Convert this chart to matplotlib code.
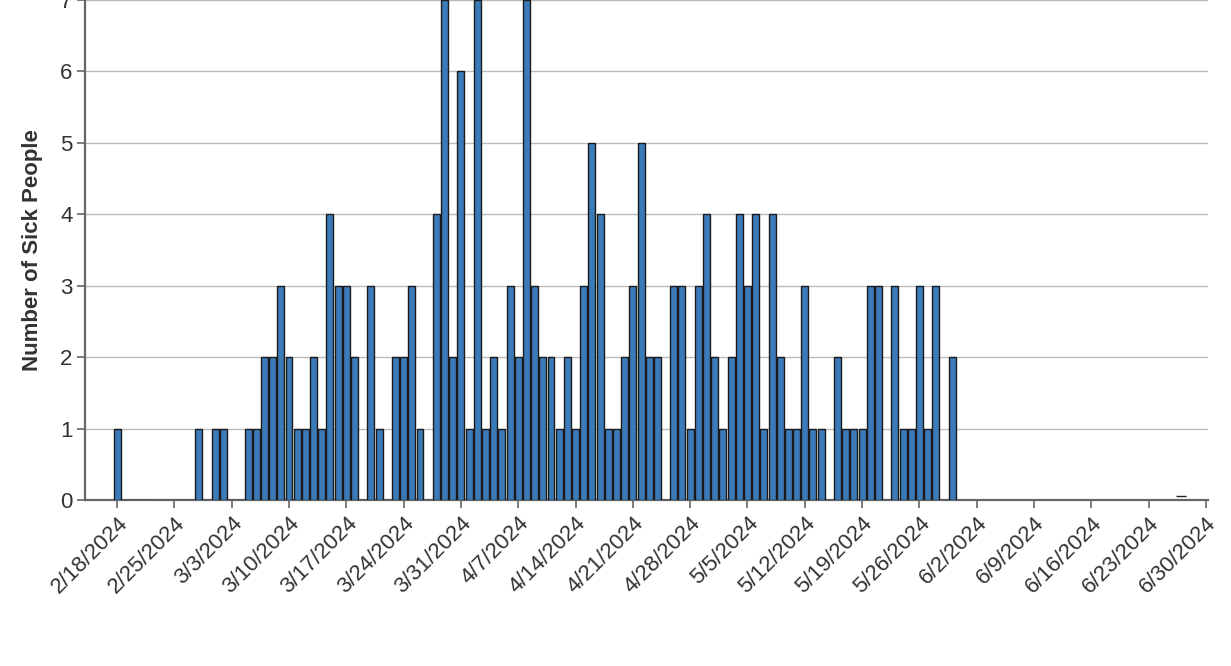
import matplotlib
matplotlib.use("Agg")
import matplotlib.pyplot as plt
import matplotlib.dates as mdates
import pandas as pd

# daily counts, one value per day starting at 2/18/2024
start_day = "2024-02-18"
sick_counts = [
    1, 0, 0, 0, 0, 0, 0, 0, 0, 0, 1, 0,                      # 2/18 - 2/29
    1, 1, 0, 0, 1, 1, 2, 2, 3, 2, 1, 1, 2, 1, 4, 3, 3, 2,    # 3/1 - 3/18
    0, 3, 1, 0, 2, 2, 3, 1, 0, 4, 7, 2, 6,                   # 3/19 - 3/31
    1, 7, 1, 2, 1, 3, 2, 7, 3, 2, 2, 1, 2, 1, 3, 5, 4, 1,    # 4/1 - 4/18
    1, 2, 3, 5, 2, 2, 0, 3, 3, 1, 3, 4,                      # 4/19 - 4/30
    2, 1, 2, 4, 3, 4, 1, 4, 2, 1, 1, 3, 1, 1, 0, 2, 1, 1,    # 5/1 - 5/18
    1, 3, 3, 0, 3, 1, 1, 3, 1, 3, 0, 2,                      # 5/19 - 5/30
]
# a lone near-zero record late in June
stray_days = ["2024-06-27"]
stray_counts = [0.06]

tick_days = pd.date_range("2024-02-18", "2024-06-30", freq="7D")
tick_labels = [f"{d.month}/{d.day}/{d.year}" for d in tick_days]

days = pd.date_range(start_day, periods=len(sick_counts), freq="D")

plt.rcParams['font.family'] = ['Liberation Sans', 'DejaVu Sans']

fig = plt.figure(figsize=(12.31, 6.66), dpi=100)
ax = fig.add_axes([85 / 1231, 166 / 666, (1208 - 85) / 1231, 500 / 666])

ax.bar(days, sick_counts, width=0.85, color="#3a7bb8", edgecolor="#1b1b1b",
       linewidth=1.0, zorder=3)
ax.plot(pd.to_datetime(stray_days), stray_counts, marker="_", markersize=7,
        color="#222222", linestyle="none", zorder=3)

ax.set_xlim(pd.Timestamp("2024-02-14 02:00"), pd.Timestamp("2024-06-30 06:00"))
ax.set_ylim(0, 7)
ax.set_yticks(range(0, 8))

ax.set_xticks(tick_days)
ax.set_xticklabels(tick_labels, rotation=45, ha="right", va="top",
                   rotation_mode="anchor", fontsize=16, color="#333333")
ax.tick_params(axis="y", labelsize=16, labelcolor="#333333")
ax.tick_params(axis="both", direction="out", length=6, width=1.2, color="#666666", pad=3)

ax.grid(axis="y", color="#bbbbbb", linewidth=1.0, zorder=0)
ax.set_axisbelow(True)

for side in ["top", "right"]:
    ax.spines[side].set_visible(False)
for side in ["left", "bottom"]:
    ax.spines[side].set_color("#666666")
    ax.spines[side].set_linewidth(1.6)

ax.set_ylabel("Number of Sick People", fontsize=16, fontweight="bold",
              color="#333333", labelpad=12)

fig.savefig("out.png", dpi=100)
